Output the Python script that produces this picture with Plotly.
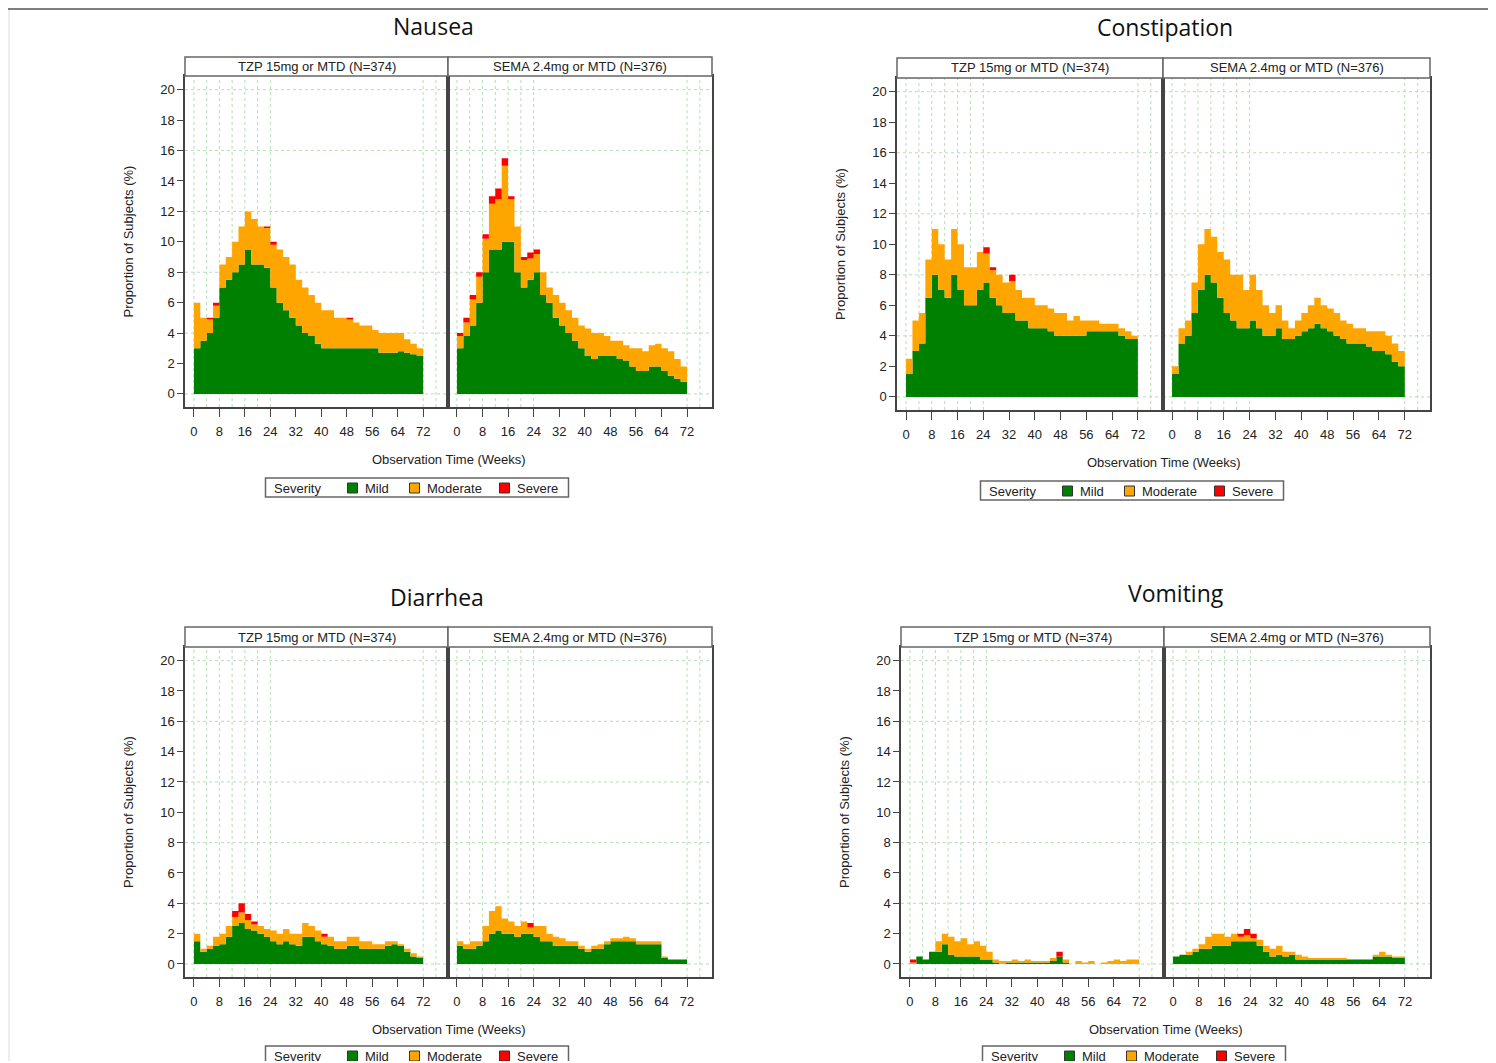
import plotly.graph_objects as go

W, H = 1496, 1063

weeks = list(range(0, 74, 2))  # 0..72 step 2
x_ticks = [0, 8, 16, 24, 32, 40, 48, 56, 64, 72]
y_ticks = list(range(0, 21, 2))
arms = ["TZP 15mg or MTD (N=374)", "SEMA 2.4mg or MTD (N=376)"]
severities = ["Mild", "Moderate", "Severe"]
colors = ["#008000", "#FFA500", "#FF0000"]

# values per panel: mild, total (mild+moderate+severe), severe  (%)
nausea_tzp_mild = [3, 3.5, 4, 5, 7, 7.5, 8, 8.5, 9.5, 8.5, 8.5, 8.3, 7, 6, 5.5, 5, 4.5, 4, 3.8, 3.3, 3, 3, 3, 3, 3, 3, 3, 3, 3, 2.7, 2.7, 2.7, 2.8, 2.7, 2.6, 2.5, 0.2]
nausea_tzp_total = [6, 5, 5, 6, 8.5, 9, 10, 11, 12, 11.5, 11, 11, 10, 9.5, 9, 8.5, 7.5, 7, 6.5, 6, 5.5, 5.5, 5, 5, 5, 4.7, 4.5, 4.5, 4.2, 4, 4, 4, 4, 3.6, 3.3, 3, 0.3]
nausea_tzp_sev = [0, 0, 0.1, 0.2, 0, 0, 0, 0, 0, 0, 0, 0.1, 0.2, 0, 0, 0, 0, 0, 0, 0, 0, 0, 0, 0, 0.1, 0, 0, 0, 0, 0, 0, 0, 0, 0, 0, 0, 0]
nausea_sema_mild = [3, 3.8, 4.5, 6, 8, 9.5, 9.5, 10, 10, 8, 7, 7.5, 8, 6.5, 6, 5, 4.5, 4, 3.5, 3, 2.5, 2.3, 2.5, 2.5, 2.5, 2.3, 2.2, 1.8, 1.5, 1.5, 1.8, 1.8, 1.5, 1.2, 1, 0.8, 0.5]
nausea_sema_total = [4, 5, 6.5, 8, 10.5, 13, 13.5, 15.5, 13, 11, 9, 9.3, 9.5, 8, 7, 6.5, 6, 5.5, 5, 4.5, 4.3, 4, 4, 3.8, 3.5, 3.5, 3.2, 3, 3, 2.8, 3.2, 3.3, 3, 2.8, 2.3, 1.8, 0.8]
nausea_sema_sev = [0.2, 0.3, 0.3, 0.3, 0.3, 0.5, 0.7, 0.5, 0.2, 0, 0.2, 0.4, 0.3, 0, 0, 0, 0, 0, 0, 0, 0, 0, 0, 0, 0, 0, 0, 0, 0, 0, 0, 0, 0, 0, 0, 0, 0]

const_tzp_mild = [1.5, 3, 3.5, 6.5, 8, 7, 6.5, 8, 7, 6, 6, 7, 7.5, 6.5, 6, 5.5, 5.5, 5, 5, 4.5, 4.5, 4.5, 4.3, 4, 4, 4, 4, 4, 4.3, 4.3, 4.3, 4.3, 4.3, 4, 3.8, 3.8, 0.3]
const_tzp_total = [2.5, 5, 5.5, 9, 11, 10, 9, 11, 10, 8.5, 8.5, 9.5, 9.8, 8.5, 8, 7.5, 8, 7, 6.5, 6.5, 6, 6, 5.8, 5.5, 5.5, 5, 5.3, 5, 5, 5, 4.8, 4.8, 4.8, 4.5, 4.3, 4, 0.3]
const_tzp_sev = [0, 0, 0, 0, 0, 0, 0, 0, 0, 0, 0, 0, 0.4, 0.2, 0, 0, 0.4, 0, 0, 0, 0, 0, 0, 0, 0, 0, 0, 0, 0, 0, 0, 0, 0, 0, 0, 0, 0]
const_sema_mild = [1.5, 3.5, 4, 5.5, 7, 8, 7.5, 6.5, 5.5, 5, 4.5, 4.5, 5, 4.5, 4, 4, 4.5, 3.8, 3.8, 4, 4.3, 4.5, 4.8, 4.5, 4.3, 4, 3.8, 3.5, 3.5, 3.5, 3.3, 3, 3, 2.8, 2.3, 2, 0.3]
const_sema_total = [2, 4.5, 5, 7.5, 10, 11, 10.5, 9.5, 9, 8, 8, 7, 8, 7, 6, 5.5, 6, 5, 4.5, 5, 5.5, 6, 6.5, 6, 5.8, 5.5, 5, 4.8, 4.5, 4.5, 4.3, 4.3, 4.3, 4, 3.5, 3, 0.3]
const_sema_sev = [0] * 37

diar_tzp_mild = [1.5, 0.8, 1, 1.2, 1.3, 1.8, 2.5, 2.7, 2.3, 2.2, 2, 1.8, 1.5, 1.3, 1.5, 1.3, 1.2, 1.8, 1.8, 1.5, 1.3, 1.2, 1, 1, 1.2, 1.2, 1, 1, 1, 1, 1.2, 1.3, 1.2, 0.8, 0.5, 0.4, 0.4]
diar_tzp_total = [2, 1, 1.2, 1.8, 2, 2.5, 3.5, 4, 3.3, 2.8, 2.5, 2.3, 2.2, 2, 2.3, 2, 2, 2.7, 2.5, 2.2, 2, 1.8, 1.5, 1.5, 1.8, 1.8, 1.5, 1.5, 1.3, 1.3, 1.5, 1.5, 1.3, 1, 0.7, 0.5, 0.5]
diar_tzp_sev = [0, 0, 0, 0, 0, 0, 0.4, 0.6, 0.4, 0.2, 0, 0, 0, 0, 0, 0, 0, 0, 0, 0, 0.2, 0, 0, 0, 0, 0, 0, 0, 0, 0, 0, 0, 0, 0, 0, 0, 0]
diar_sema_mild = [1.2, 1, 1, 1.2, 1.5, 2, 2.2, 2, 2, 1.8, 2, 2, 1.8, 1.5, 1.5, 1.2, 1.2, 1.2, 1.2, 1, 0.8, 1, 1, 1.3, 1.5, 1.5, 1.5, 1.5, 1.3, 1.3, 1.3, 1.3, 0.4, 0.3, 0.3, 0.3, 0]
diar_sema_total = [1.5, 1.3, 1.5, 1.5, 2.5, 3.5, 3.8, 3, 2.8, 2.5, 2.8, 2.7, 2.5, 2.5, 2, 1.8, 1.7, 1.5, 1.5, 1.2, 1, 1.2, 1.3, 1.5, 1.7, 1.7, 1.8, 1.7, 1.5, 1.5, 1.5, 1.5, 0.5, 0.3, 0.3, 0.3, 0]
diar_sema_sev = [0, 0, 0, 0, 0, 0, 0, 0, 0, 0, 0, 0.3, 0, 0, 0, 0, 0, 0, 0, 0, 0, 0, 0, 0, 0, 0, 0, 0, 0, 0, 0, 0, 0, 0, 0, 0, 0]

vom_tzp_mild = [0, 0.5, 0.3, 0.8, 0.8, 1.3, 0.6, 0.5, 0.5, 0.5, 0.5, 0.3, 0.3, 0.1, 0, 0.1, 0.1, 0.1, 0.1, 0.1, 0.1, 0.1, 0.2, 0.5, 0.1, 0, 0, 0, 0, 0, 0, 0, 0, 0, 0, 0, 0]
vom_tzp_total = [0.3, 0.5, 0.3, 0.8, 1.5, 2, 1.8, 1.5, 1.7, 1.3, 1.5, 1.2, 0.8, 0.3, 0.2, 0.2, 0.3, 0.2, 0.3, 0.2, 0.2, 0.2, 0.4, 0.8, 0.3, 0, 0.2, 0.1, 0.2, 0, 0.1, 0.2, 0.3, 0.2, 0.3, 0.3, 0]
vom_tzp_sev = [0.2, 0, 0, 0, 0, 0, 0, 0, 0, 0, 0, 0, 0, 0, 0, 0, 0, 0, 0, 0, 0, 0, 0, 0.3, 0, 0, 0, 0, 0, 0, 0, 0, 0, 0, 0, 0, 0]
vom_sema_mild = [0.5, 0.6, 0.6, 0.8, 1, 1, 1.2, 1.2, 1.2, 1.5, 1.5, 1.5, 1.5, 1.2, 0.8, 0.5, 0.6, 0.5, 0.6, 0.3, 0.3, 0.3, 0.3, 0.3, 0.3, 0.3, 0.3, 0.3, 0.3, 0.3, 0.3, 0.5, 0.5, 0.5, 0.4, 0.4, 0.4]
vom_sema_total = [0.5, 0.6, 0.8, 1, 1.3, 1.8, 2, 2, 1.8, 2, 2, 2.3, 2, 1.6, 1.2, 1, 1.2, 0.8, 0.8, 0.6, 0.5, 0.4, 0.4, 0.4, 0.4, 0.4, 0.4, 0.3, 0.3, 0.3, 0.3, 0.6, 0.8, 0.6, 0.5, 0.5, 0.5]
vom_sema_sev = [0, 0, 0, 0, 0, 0, 0, 0, 0, 0, 0.2, 0.4, 0.3, 0, 0, 0, 0, 0, 0, 0, 0, 0, 0, 0, 0, 0, 0, 0, 0, 0, 0, 0, 0, 0, 0, 0, 0]

# groups: pixel layout (left, mid, right), (strip top, plot top, plot bottom), title pos, legend top
groups = [
    dict(title="Nausea", px=(185, 448, 712), py=(57, 76, 407), tx=433, ty=26, ly=478,
         data=[(nausea_tzp_mild, nausea_tzp_total, nausea_tzp_sev), (nausea_sema_mild, nausea_sema_total, nausea_sema_sev)]),
    dict(title="Constipation", px=(897, 1163, 1430), py=(58, 78, 410), tx=1165, ty=27, ly=481,
         data=[(const_tzp_mild, const_tzp_total, const_tzp_sev), (const_sema_mild, const_sema_total, const_sema_sev)]),
    dict(title="Diarrhea", px=(185, 448, 712), py=(627, 647, 977), tx=437, ty=597, ly=1046,
         data=[(diar_tzp_mild, diar_tzp_total, diar_tzp_sev), (diar_sema_mild, diar_sema_total, diar_sema_sev)]),
    dict(title="Vomiting", px=(901, 1164, 1430), py=(627, 647, 977), tx=1176, ty=593, ly=1046,
         data=[(vom_tzp_mild, vom_tzp_total, vom_tzp_sev), (vom_sema_mild, vom_sema_total, vom_sema_sev)]),
]

FONT = "Liberation Sans"
AX = "#444444"
OFF = 8  # page body margin
PW, PH = W - 2 * OFF, H - OFF - 2
fig = go.Figure()
layout = dict(width=PW, height=PH, margin=dict(l=0, r=0, t=0, b=0),
              paper_bgcolor="white", plot_bgcolor="white", showlegend=False,
              font=dict(family=FONT, size=13, color="#222"))
shapes, annots = [], []

def fx(p):
    return (p - OFF) / PW

def fy(p):
    return 1 - (p - OFF) / PH

shapes.append(dict(type="rect", xref="paper", yref="paper", x0=0, x1=fx(10), y0=0, y1=1,
                   fillcolor="#eeeeee", line_width=0, layer="below"))
shapes.append(dict(type="line", xref="paper", yref="paper", x0=0, x1=1, y0=fy(9), y1=fy(9),
                   line=dict(color="#555", width=1.5)))

n = 0
for g in groups:
    l, m, r = g["px"]
    st, pt, pb = g["py"]
    for k, (mild, total, sev) in enumerate(g["data"]):
        n += 1
        xa = "xaxis" if n == 1 else f"xaxis{n}"
        ya = "yaxis" if n == 1 else f"yaxis{n}"
        xr = "x" if n == 1 else f"x{n}"
        yr = "y" if n == 1 else f"y{n}"
        x0p, x1p = (l, m) if k == 0 else (m, r)
        moderate = [max(t - a - s, 0) for a, t, s in zip(mild, total, sev)]
        for name, vals, c in zip(severities, [mild, moderate, sev], colors):
            fig.add_trace(go.Scatter(x=weeks, y=vals, xaxis=xr, yaxis=yr, mode="lines",
                                     stackgroup=f"s{n}", line=dict(width=0, shape="hv", color=c),
                                     fillcolor=c, name=name))
        layout[xa] = dict(domain=[fx(x0p), fx(x1p)], range=[-2.8, 79.8], anchor=yr,
                          tickvals=x_ticks, ticks="outside", ticklen=8, ticklabelstandoff=4,
                          tickcolor=AX, showgrid=False, zeroline=False,
                          showline=True, linecolor=AX, mirror=True, linewidth=1.5,
                          tickfont=dict(size=13))
        layout[ya] = dict(domain=[fy(pb), fy(pt)], range=[-0.86, 20.9], anchor=xr,
                          tickvals=y_ticks, ticks="outside" if k == 0 else "", ticklen=6,
                          tickcolor=AX, showticklabels=(k == 0), showgrid=False, zeroline=False,
                          showline=True, linecolor=AX, mirror=True, linewidth=1.5,
                          tickfont=dict(size=13))
        if k == 0:
            layout[ya]["title"] = dict(text="Proportion of Subjects (%)", font=dict(size=13), standoff=24)
        for gx in [0, 4, 8, 12, 16, 20, 24, 72, 76]:
            shapes.append(dict(type="line", xref=xr, yref=f"{yr} domain", x0=gx, x1=gx, y0=0, y1=1,
                               line=dict(color="#b8dcb8", width=1, dash="dot"), layer="below"))
        for gy in [0, 4, 8, 12, 16, 20]:
            shapes.append(dict(type="line", xref=f"{xr} domain", yref=yr, x0=0, x1=1, y0=gy, y1=gy,
                               line=dict(color="#b8dcb8", width=1, dash="dot"), layer="below"))
        shapes.append(dict(type="rect", xref="paper", yref="paper", x0=fx(x0p), x1=fx(x1p),
                           y0=fy(pt), y1=fy(st), fillcolor="white", line=dict(color="#666", width=1.5)))
        annots.append(dict(xref="paper", yref="paper", x=fx((x0p + x1p) / 2), y=fy((st + pt) / 2),
                           text=arms[k], showarrow=False, font=dict(size=13), xanchor="center", yanchor="middle"))
    annots.append(dict(xref="paper", yref="paper", x=fx(g["tx"]), y=fy(g["ty"]), text=g["title"],
                       showarrow=False, font=dict(size=23, family="Open Sans", color="#111"),
                       xanchor="center", yanchor="middle"))
    annots.append(dict(xref="paper", yref="paper", x=fx((l + r) / 2), y=fy(pb + 52),
                       text="Observation Time (Weeks)", showarrow=False, font=dict(size=13),
                       xanchor="center", yanchor="middle"))
    cx = (l + r) / 2
    lx0, lx1 = cx - 183, cx + 120
    ly = g["ly"]
    shapes.append(dict(type="rect", xref="paper", yref="paper", x0=fx(lx0), x1=fx(lx1),
                       y0=fy(ly + 19), y1=fy(ly), line=dict(color="#666", width=1.5), fillcolor="white"))
    annots.append(dict(xref="paper", yref="paper", x=fx(lx0 + 6), y=fy(ly + 10), text="Severity",
                       showarrow=False, xanchor="left", yanchor="middle", font=dict(size=13)))
    for i, (name, c) in enumerate(zip(severities, colors)):
        bx = lx0 + 82 + [0, 62, 152][i]
        shapes.append(dict(type="rect", xref="paper", yref="paper", x0=fx(bx), x1=fx(bx + 10),
                           y0=fy(ly + 15), y1=fy(ly + 5), fillcolor=c, line=dict(color="#333", width=1)))
        annots.append(dict(xref="paper", yref="paper", x=fx(bx + 15), y=fy(ly + 10), text=name,
                           showarrow=False, xanchor="left", yanchor="middle", font=dict(size=13)))

layout["shapes"] = shapes
layout["annotations"] = annots
fig.update_layout(**layout)
fig.write_html("out.html")
